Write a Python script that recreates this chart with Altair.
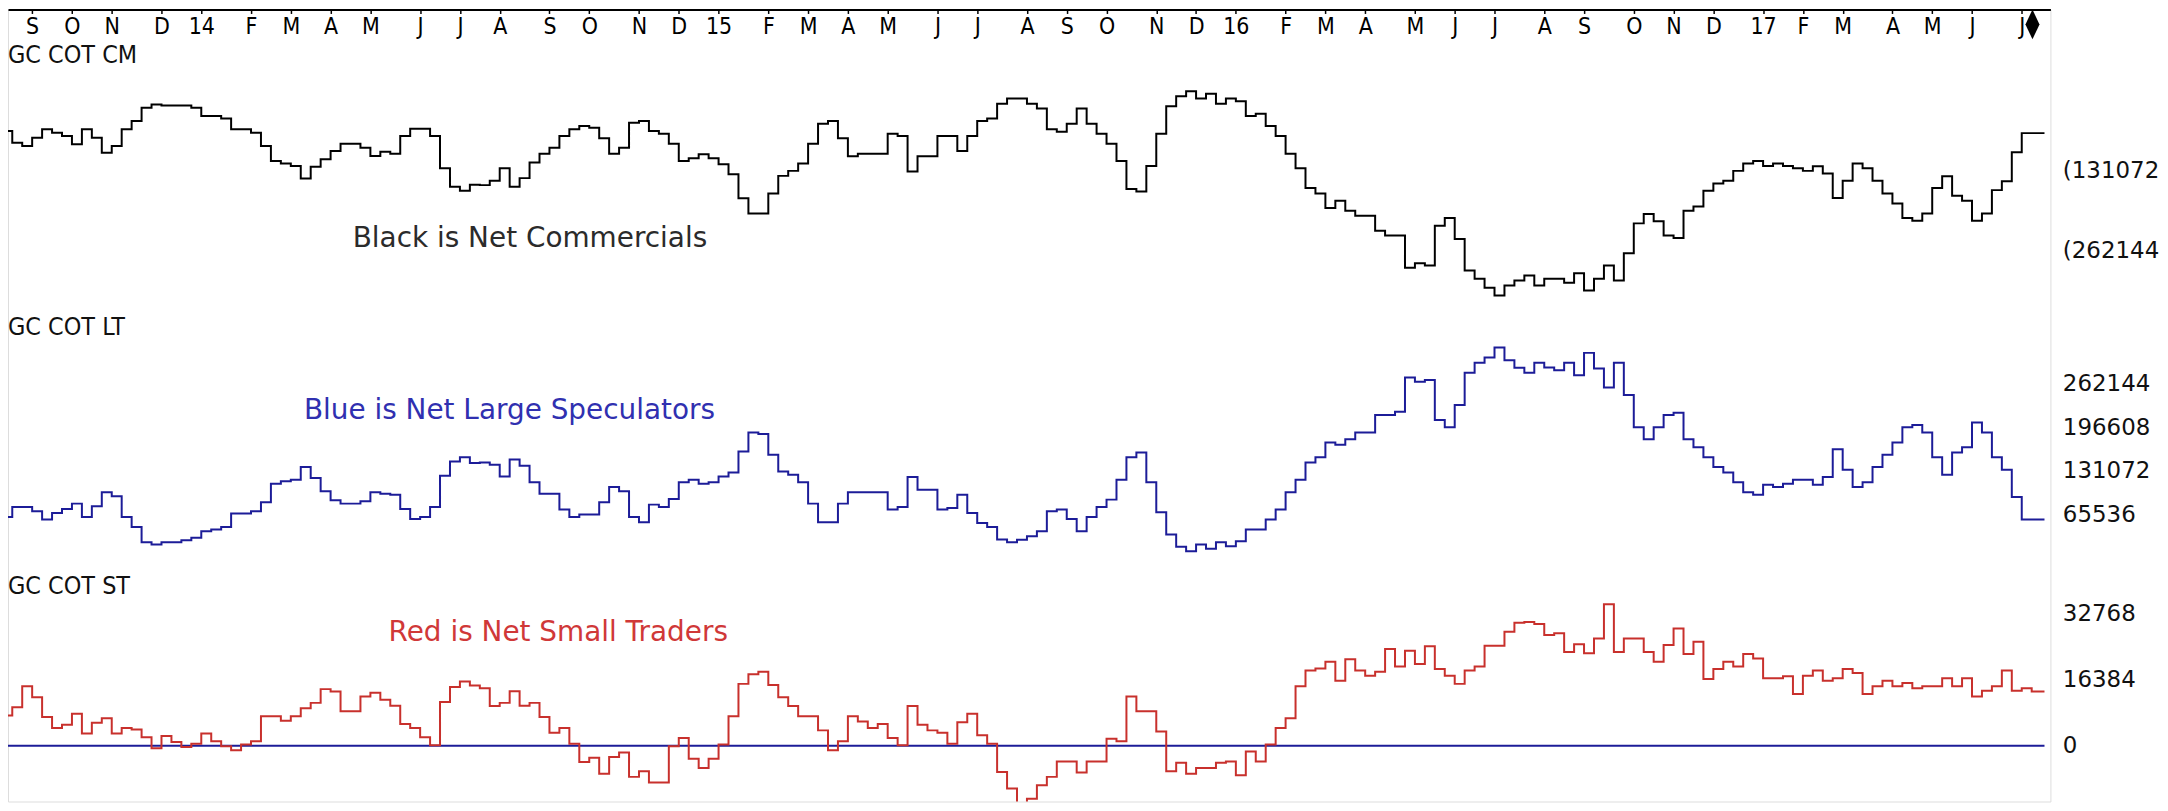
import altair as alt
import pandas as pd

# ---------------- data (weekly COT net positions) ----------------
first_week = "2013-08-16"

black_cm = [
    -66500, -85600, -91000, -77400, -63700, -69200, -74600, -88200, -63700, -77400,
    -102000, -91000, -63700, -50100, -28300, -22800, -24400, -24400, -24400, -28300,
    -41900, -41900, -45700, -63700, -63700, -69200, -91000, -115500, -119900, -123700,
    -144500, -125300, -112700, -99200, -87200, -87200, -93800, -107400, -100300, -103600,
    -74600, -62700, -62700, -74600, -127500, -158100, -164600, -154800, -155300, -148300,
    -127500, -158100, -143800, -118300, -103600, -93800, -74600, -63700, -58300, -61100,
    -78400, -103600, -93800, -52900, -50100, -66500, -70900, -87200, -115500, -111100,
    -104600, -111100, -120900, -137300, -176900, -201700, -201700, -169000, -140100, -131900,
    -119900, -87200, -54500, -50100, -78400, -107800, -103600, -103600, -103600, -70900,
    -74600, -133000, -107800, -107800, -74600, -74600, -99200, -74600, -50100, -45700,
    -21800, -13000, -13000, -21800, -29300, -63700, -67600, -54500, -29300, -54500,
    -70900, -87200, -115500, -161800, -165800, -123700, -70900, -25600, -9200, -1000,
    -13000, -5400, -21800, -13000, -17400, -41900, -38100, -58300, -74600, -103600,
    -127500, -160200, -169000, -192900, -181000, -197300, -205500, -205500, -230100, -238200,
    -238200, -291100, -283500, -287300, -221900, -209300, -243600, -295500, -309100, -323800,
    -336400, -320000, -311900, -303700, -320000, -309100, -309100, -315600, -299900, -328200,
    -309100, -287300, -311900, -267200, -218100, -202700, -214800, -238200, -242000, -197300,
    -190300, -164600, -152700, -148300, -131900, -119900, -115500, -123700, -119900, -123700,
    -127500, -131900, -124200, -136300, -176600, -148300, -119900, -127500, -148300, -169000,
    -185400, -209300, -213700, -201700, -160200, -140600, -172800, -181000, -213700, -201700,
    -163500, -148900, -101300, -69900, -69900,
]

blue_lt = [
    62000, 77000, 77000, 70500, 58100, 68000, 74000, 82000, 62000, 78000,
    98900, 92900, 62000, 47100, 24200, 20700, 24200, 24200, 27200, 30700,
    40600, 43100, 47100, 67000, 67000, 70500, 84000, 111900, 115400, 117900,
    136800, 120400, 100400, 87000, 82000, 82000, 85500, 98900, 96900, 95400,
    74000, 59100, 62000, 77000, 123800, 145300, 151700, 142800, 143800, 140300,
    122800, 148300, 138800, 113900, 96900, 96900, 73000, 62000, 65500, 65500,
    84000, 106900, 100400, 62000, 54100, 80500, 77000, 89000, 113900, 117900,
    111900, 113900, 122800, 128800, 160200, 188600, 186600, 155200, 130300, 125300,
    113900, 82000, 54100, 54100, 82000, 98900, 98900, 98900, 98900, 73000,
    77000, 121800, 102900, 102900, 73000, 75500, 95400, 68000, 53100, 47100,
    28200, 24200, 27700, 33100, 40600, 70500, 73000, 59100, 40600, 62000,
    77000, 88000, 117900, 151700, 158700, 113900, 69000, 35600, 17200, 10700,
    20700, 14200, 24200, 18200, 25700, 43100, 43100, 58100, 73000, 98900,
    117900, 143800, 151700, 173700, 170200, 178700, 188600, 188600, 215000, 215000,
    220000, 271300, 264900, 267400, 207600, 196600, 230000, 278300, 293300, 301200,
    316200, 297300, 285800, 278300, 293300, 286300, 282300, 293300, 274800, 308200,
    284800, 256400, 293300, 244900, 196600, 178700, 196600, 215000, 218500, 178700,
    166700, 151700, 136800, 128800, 113900, 98900, 95400, 110400, 106900, 111900,
    117900, 117900, 110400, 121800, 163700, 132800, 106900, 113900, 136800, 155200,
    173700, 196600, 200100, 188600, 151700, 125300, 158700, 166700, 203600, 188600,
    151700, 132800, 91900, 58100, 58100,
]

red_st = [
    7500, 9500, 14700, 12000, 7100, 4400, 5200, 7900, 3000, 5700,
    6800, 3000, 4400, 4000, 2100, -600, 2400, 900, -300, 500,
    3000, 1100, -100, -1100, 300, 1100, 7300, 7300, 6200, 7300,
    9300, 10600, 14000, 13400, 8500, 8500, 12200, 13100, 11400, 9900,
    5400, 4400, 2100, 100, 10800, 14500, 15900, 14900, 14200, 9800,
    10600, 13500, 9900, 10600, 7100, 3200, 4400, 500, -4000, -3000,
    -6900, -2800, -1700, -7700, -6300, -9100, -9100, -100, 1900, -3200,
    -5500, -3200, 300, 7300, 15300, 17700, 18300, 15000, 12000, 9800,
    7300, 7300, 3800, -1100, 1100, 7300, 6000, 4400, 5400, 1900,
    100, 9800, 5200, 3800, 3200, 500, 5800, 7900, 2600, 500,
    -6500, -10600, -15500, -13100, -9800, -7700, -3900, -3900, -6600, -3900,
    -3900, 1700, 1100, 12200, 8500, 8500, 3500, -6300, -4200, -6900,
    -5500, -5500, -4200, -3900, -7300, -1400, -3900, 300, 4400, 6800,
    14700, 18600, 19100, 20800, 16100, 21400, 18600, 17300, 18300, 23900,
    19600, 23500, 20200, 24600, 19000, 17300, 15300, 18600, 19600, 24700,
    24700, 28200, 30400, 30600, 30100, 27400, 27800, 23200, 25100, 22900,
    26500, 35000, 23200, 26500, 26500, 23200, 20800, 24900, 29000, 22700,
    25700, 16500, 19000, 20800, 19600, 22700, 21600, 16700, 16700, 17200,
    12800, 17300, 18600, 16100, 16700, 19000, 18000, 12800, 14700, 16100,
    14700, 15500, 14200, 14700, 14700, 16700, 14700, 16700, 12200, 13600,
    14700, 18600, 13600, 14200, 13400,
]

# month ticks: first weekly bar of every month
tick_dates = [
    "2013-09-06", "2013-10-04", "2013-11-01", "2013-12-06",
    "2014-01-03", "2014-02-07", "2014-03-07", "2014-04-04", "2014-05-02", "2014-06-06",
    "2014-07-04", "2014-08-01", "2014-09-05", "2014-10-03", "2014-11-07", "2014-12-05",
    "2015-01-02", "2015-02-06", "2015-03-06", "2015-04-03", "2015-05-01", "2015-06-05",
    "2015-07-03", "2015-08-07", "2015-09-04", "2015-10-02", "2015-11-06", "2015-12-04",
    "2016-01-01", "2016-02-05", "2016-03-04", "2016-04-01", "2016-05-06", "2016-06-03",
    "2016-07-01", "2016-08-05", "2016-09-02", "2016-10-07", "2016-11-04", "2016-12-02",
    "2017-01-06", "2017-02-03", "2017-03-03", "2017-04-07", "2017-05-05", "2017-06-02",
    "2017-07-07",
]
black_ticks = [-131072, -262144]
blue_ticks = [65536, 131072, 196608, 262144]
red_ticks = [0, 16384, 32768]

panel_titles = ["GC COT CM", "GC COT LT", "GC COT ST"]
notes = ["Black is Net Commercials", "Blue is Net Large Speculators", "Red is Net Small Traders"]

# ---------------- build ----------------
W, H = 2050, 795

dates = pd.date_range(first_week, periods=len(black_cm), freq="7D")
end_date = dates[-1] + pd.Timedelta(days=9)
date_strs = list(dates.strftime("%Y-%m-%d")) + [end_date.strftime("%Y-%m-%d")]


def frame(vals):
    return pd.DataFrame({"date": date_strs, "v": list(vals) + [vals[-1]]})


def dt(s, h=0):
    y, m, d = (int(p) for p in s.split("-"))
    return alt.DateTime(year=y, month=m, date=d, hours=h, utc=True)


NFONT = "Liberation Sans Narrow, DejaVu Sans Condensed, sans-serif"
RFONT = "DejaVu Sans, Verdana, sans-serif"

x_scale = alt.Scale(type="utc", domain=[dt("2013-08-20"), dt("2017-07-27", 4)], nice=False)
x_axis = alt.Axis(
    orient="bottom", offset=-H, values=[dt(s) for s in tick_dates],
    labelExpr="utcmonth(datum.value) == 0 ? utcFormat(datum.value, '%y') : slice(utcFormat(datum.value, '%b'), 0, 1)",
    tickSize=4, tickWidth=1.5, tickColor="black", domainColor="black", domainWidth=2,
    labelFont=NFONT, labelFontSize=23,
    labelColor="black", labelPadding=13, labelBaseline="middle", labelFlush=False,
    labelOverlap=False, grid=False, title=None,
)
x_enc = alt.X("date:T", scale=x_scale, axis=x_axis)


def yaxis(vals, expr):
    return alt.Axis(
        orient="right", values=vals, labelExpr=expr, domain=False, ticks=False, tickSize=0,
        grid=False, title=None, labelFont=RFONT, labelFontSize=23, labelColor="#111111",
        labelPadding=12, labelFlush=False, labelOverlap=False,
    )


black_line = alt.Chart(frame(black_cm)).mark_line(
    interpolate="step-after", color="#000000", strokeWidth=2, clip=True
).encode(
    x=x_enc,
    y=alt.Y("v:Q", scale=alt.Scale(domain=[-1167478, 133142], nice=False, zero=False),
            axis=yaxis(black_ticks, "'(' + abs(datum.value)")),
)

blue_line = alt.Chart(frame(blue_lt)).mark_line(
    interpolate="step-after", color="#1c1c98", strokeWidth=2, clip=True
).encode(
    x=x_enc,
    y=alt.Y("v:Q", scale=alt.Scale(domain=[-365024, 823501], nice=False, zero=False),
            axis=yaxis(blue_ticks, "'' + datum.value")),
)

red_y = alt.Y("v:Q", scale=alt.Scale(domain=[-13798, 182090], nice=False, zero=False),
              axis=yaxis(red_ticks, "'' + datum.value"))
red_line = alt.Chart(frame(red_st)).mark_line(
    interpolate="step-after", color="#c8302c", strokeWidth=2, clip=True
).encode(x=x_enc, y=red_y)
zero_rule = alt.Chart(
    pd.DataFrame({"date": [date_strs[0]], "date2": [date_strs[-1]], "v": [0]})
).mark_rule(color="#1c1c98", strokeWidth=2, clip=True).encode(
    x=x_enc, x2="date2:T", y=red_y
)
red_group = alt.layer(zero_rule, red_line)


def label(text, x, y, size, color, font):
    return alt.Chart(pd.DataFrame({"t": [text]})).mark_text(
        align="left", baseline="middle", fontSize=size, font=font, color=color
    ).encode(x=alt.value(x), y=alt.value(y), text="t:N")


texts = [
    label(panel_titles[0], 0, 46, 25, "#111111", NFONT),
    label(panel_titles[1], 0, 319, 25, "#111111", NFONT),
    label(panel_titles[2], 0, 579, 25, "#111111", NFONT),
    label(notes[0], 346, 230, 28, "#2b2b2b", RFONT),
    label(notes[1], 297, 403, 28, "#3030b0", RFONT),
    label(notes[2], 382, 626, 28, "#d03838", RFONT),
]

diamond = alt.Chart(pd.DataFrame({"t": ["end"]})).mark_point(
    shape="M0,-1L0.47,0L0,1L-0.47,0Z", filled=True, color="black", opacity=1, size=900
).encode(x=alt.value(2032), y=alt.value(15))

chart = alt.layer(
    black_line, blue_line, red_group, *texts, diamond
).resolve_scale(
    y="independent"
).properties(
    width=W, height=H,
    padding={"left": 0, "top": 0, "right": 110, "bottom": 0},
    autosize=alt.AutoSizeParams(type="none"),
).configure_view(strokeWidth=0).configure(background="white")

chart.save("out.html", embed_options={"renderer": "svg", "actions": False})
